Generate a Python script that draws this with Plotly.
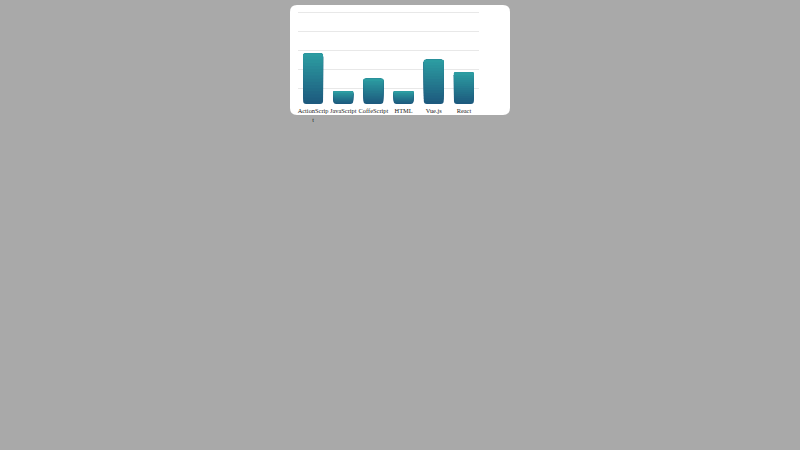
import plotly.graph_objects as go

# data
categories = ["ActionScript", "JavaScript", "CoffeScript", "HTML", "Vue.js", "React"]
tick_labels = ["ActionScrip<br>t", "JavaScript", "CoffeScript", "HTML", "Vue.js", "React"]
values = [8, 2, 4, 2, 7, 5]

# vertical gradient for the bars (top teal -> bottom dark blue)
TOP = (44, 158, 162)
BOTTOM = (29, 88, 125)
N_BANDS = 16

# plot area in pixels (800x450 page)
L, R, T, B = 298, 321, 11, 346
PW, PH = 800 - L - R, 450 - T - B


def band_color(i):
    t = (i + 0.5) / N_BANDS
    r, g, b = [round(lo + (hi - lo) * t) for lo, hi in zip(BOTTOM, TOP)]
    return f"rgb({r},{g},{b})"


def px(x, y):
    # pixel -> paper coords
    return (x - L) / PW, (450 - B - y) / PH


def rounded_rect(x0, y0, x1, y1, r):
    def p(x, y):
        a, b = px(x, y)
        return f"{a:.5f},{b:.5f}"
    return (f"M {p(x0 + r, y0)} L {p(x1 - r, y0)} Q {p(x1, y0)} {p(x1, y0 + r)} "
            f"L {p(x1, y1 - r)} Q {p(x1, y1)} {p(x1 - r, y1)} "
            f"L {p(x0 + r, y1)} Q {p(x0, y1)} {p(x0, y1 - r)} "
            f"L {p(x0, y0 + r)} Q {p(x0, y0)} {p(x0 + r, y0)} Z")


fig = go.Figure()

# each band is a bar from its start up to the full value; later (lighter) bands cover the top
for i in range(N_BANDS):
    base = [v * i / N_BANDS for v in values]
    fig.add_trace(go.Bar(
        x=categories, y=[v - b for v, b in zip(values, base)], base=base,
        marker=dict(color=band_color(i), cornerradius=3, line_width=0),
        hoverinfo="skip", showlegend=False,
    ))

fig.update_layout(
    width=800, height=450,
    margin=dict(l=L, r=R, t=T, b=B),
    paper_bgcolor="#a9a9a9",
    plot_bgcolor="rgba(0,0,0,0)",
    barmode="overlay",
    bargap=0.34,
    font=dict(family="Liberation Serif", size=6.4, color="#222222"),
    shapes=[dict(
        type="path", xref="paper", yref="paper", layer="below",
        path=rounded_rect(290, 5, 510, 115, 7),
        fillcolor="white", line_width=0,
    )],
)
fig.update_xaxes(
    tickmode="array", tickvals=categories, ticktext=tick_labels,
    showgrid=False, showline=False, ticks="", tickangle=0,
    ticklabelstandoff=2,
)
fig.update_yaxes(
    range=[0, 14.7], tick0=2.4, dtick=3,
    showgrid=True, gridcolor="#e8e8e8", gridwidth=1,
    zeroline=False, showticklabels=False, showline=False,
)

fig.write_html(
    "out.html",
    config={"displayModeBar": False},
    post_script="document.body.style.margin='0';document.body.style.background='#a9a9a9';",
)
